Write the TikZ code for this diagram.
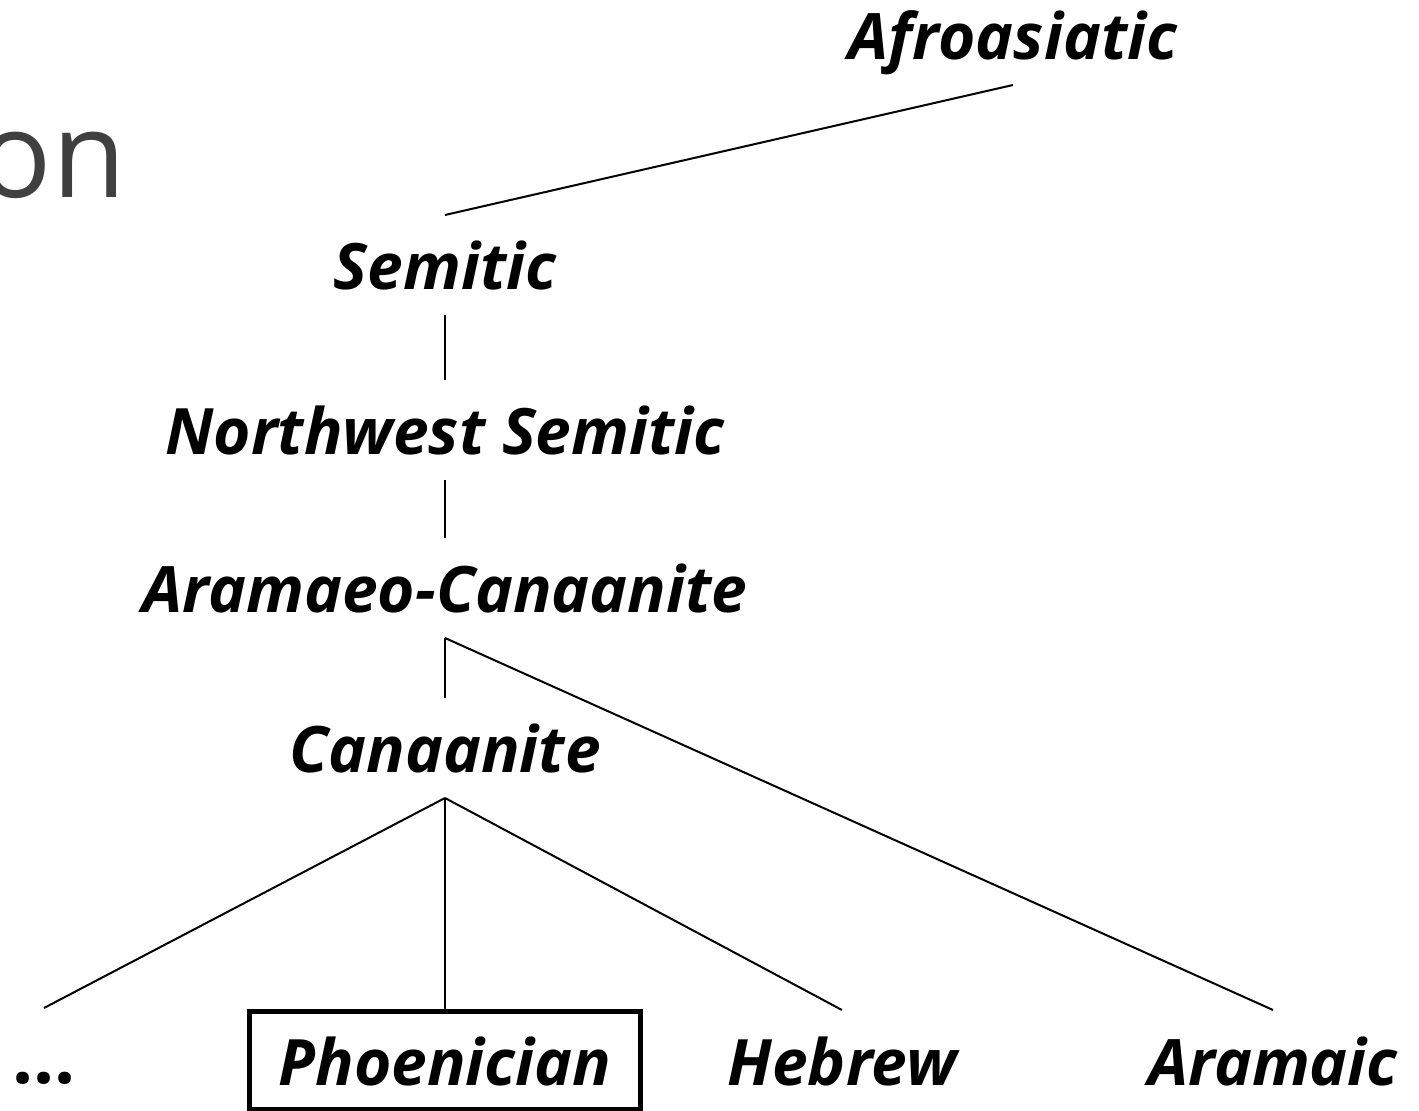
\documentclass[tikz,border=0pt]{standalone}
\usepackage{fontspec}
\setmainfont{Open Sans}
\usetikzlibrary{positioning}
\definecolor{titlegray}{rgb}{0.25,0.25,0.25}

\begin{document}
\begin{tikzpicture}[
            x = 0.5pt, y = -0.5pt, % pixel grid
            line width = 1pt, % line style
            lang/.style = {
                font = \fontsize{32}{38}\selectfont\bfseries\itshape,
                anchor = base,
                text height = 34pt, % room above and below the words
                text depth = 9pt,
                inner xsep = 3pt,
                inner ysep = 3pt
            },
            picked/.style = {
                lang,
                draw,
                line width = 2.5pt,
                inner xsep = 14.5pt,
                inner ysep = 3pt
            }
        ]
        \useasboundingbox (0,0) rectangle (1419,1111);

        % title, cut at the edge
        \node[anchor=base east, text=titlegray, inner sep=0pt,
              font=\fontsize{60}{70}\selectfont] (title) at (127,198) {on};

        % upper levels
        \node[lang] (AA) at (1013,60) {Afroasiatic};
        \node[lang] (S) at (445,290) {Semitic};
        \node[lang] (NWS) at (445,455) {Northwest Semitic};
        \node[lang] (AC) at (445,613) {Aramaeo-Canaanite};
        \node[lang] (C) at (445,773) {Canaanite};

        % leaves
        \node[lang, font=\fontsize{37}{40}\selectfont\bfseries] (etc) at (44,1083) {...};
        \node[picked] (Ph) at (445,1085) {Phoenician};
        \node[lang] (He) at (842,1085) {Hebrew};
        \node[lang] (Ar) at (1273,1085) {Aramaic};

        \draw (AA.south) -- (S.north);
        \draw (S.south) -- (NWS.north);
        \draw (NWS.south) -- (AC.north);
        \draw (AC.south) -- (C.north);
        \draw (AC.south) -- (Ar.north);

        \draw (C.south) -- (etc.north);
        \draw (C.south) -- (Ph.north);
        \draw (C.south) -- (He.north);
\end{tikzpicture}
\end{document}
